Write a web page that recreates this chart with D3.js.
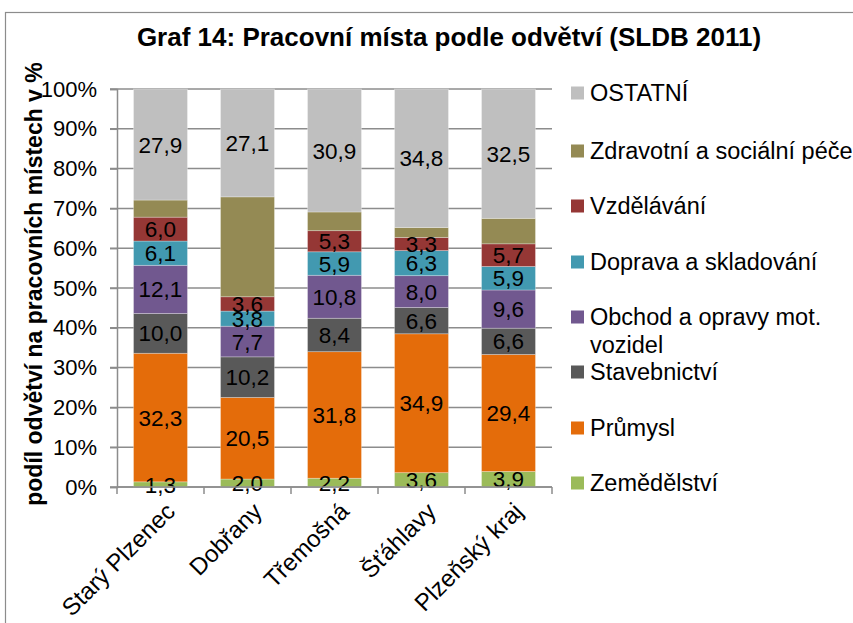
<!DOCTYPE html>
<html lang="en">
<head>
<meta charset="UTF-8">
<title>Graf 14</title>
<script src="https://d3js.org/d3.v7.min.js"></script>
<style>
  body { margin: 0; background: #fff; }
  svg { font-family: "Liberation Sans", Arial, sans-serif; }
</style>
</head>
<body>
<svg id="chart"></svg>
<script>
// Data
const categories = ["Starý Plzenec", "Dobřany", "Třemošná", "Šťáhlavy", "Plzeňský kraj"];
const seriesNames = ["Zemědělství", "Průmysl", "Stavebnictví", "Obchod a opravy mot. vozidel",
  "Doprava a skladování", "Vzdělávání", "Zdravotní a sociální péče", "OSTATNÍ"];
const zemedelstvi = [1.3, 2.0, 2.2, 3.6, 3.9];
const prumysl = [32.3, 20.5, 31.8, 34.9, 29.4];
const stavebnictvi = [10.0, 10.2, 8.4, 6.6, 6.6];
const obchod = [12.1, 7.7, 10.8, 8.0, 9.6];
const doprava = [6.1, 3.8, 5.9, 6.3, 5.9];
const vzdelavani = [6.0, 3.6, 5.3, 3.3, 5.7];
const zdravotni = [4.3, 25.1, 4.7, 2.5, 6.4];
const ostatni = [27.9, 27.1, 30.9, 34.8, 32.5];
const yTicks = [0, 10, 20, 30, 40, 50, 60, 70, 80, 90, 100];

const seriesValues = [zemedelstvi, prumysl, stavebnictvi, obchod, doprava, vzdelavani, zdravotni, ostatni];
const colors = ["#9BBB59", "#E46C0A", "#595959", "#71588F", "#4299B0", "#953735", "#948A54", "#BFBFBF"];
const showLabels = [true, true, true, true, true, true, false, true];

const width = 853, height = 623;
const margin = { left: 117, right: 301, top: 89, bottom: 136 };
const svg = d3.select("#chart").attr("width", width).attr("height", height);

// outer frame
svg.append("rect").attr("x", 5.5).attr("y", 12.5).attr("width", width).attr("height", height)
  .attr("fill", "none").attr("stroke", "#8c8c8c").attr("stroke-width", 1.2);

svg.append("text").attr("x", 449).attr("y", 46).attr("text-anchor", "middle")
  .attr("font-size", 26).attr("font-weight", "bold")
  .text("Graf 14: Pracovní místa podle odvětví (SLDB 2011)");

const x = d3.scaleBand().domain(categories).range([margin.left, width - margin.right]).paddingInner(0.38).paddingOuter(0.19);
const y = d3.scaleLinear().domain([0, 100]).range([height - margin.bottom, margin.top]);

// gridlines
svg.append("g").selectAll("line").data(yTicks).join("line")
  .attr("x1", margin.left - 7).attr("x2", width - margin.right)
  .attr("y1", d => y(d)).attr("y2", d => y(d))
  .attr("stroke", "#8c8c8c").attr("stroke-width", 1.5);

// y axis
const yAxis = svg.append("g").attr("transform", `translate(${margin.left},0)`)
  .call(d3.axisLeft(y).tickValues(yTicks).tickFormat(d => d + "%").tickSize(7).tickPadding(13));
yAxis.select(".domain").attr("stroke", "#8c8c8c").attr("stroke-width", 1.5);
yAxis.selectAll(".tick line").attr("stroke", "#8c8c8c").attr("stroke-width", 1.5);
yAxis.selectAll("text").attr("font-size", 22).attr("fill", "#000").attr("font-family", "Liberation Sans, Arial");

// stacked data
const table = categories.map((c, i) => {
  const row = { cat: c };
  seriesNames.forEach((s, j) => row[s] = seriesValues[j][i]);
  return row;
});
const stack = d3.stack().keys(seriesNames)(table);

const layers = svg.append("g").selectAll("g").data(stack).join("g")
  .attr("fill", (d, i) => colors[i]);
layers.selectAll("rect").data(d => d).join("rect")
  .attr("x", d => x(d.data.cat))
  .attr("width", x.bandwidth())
  .attr("y", d => y(d[1]))
  .attr("height", d => y(d[0]) - y(d[1]))
  .attr("stroke", "rgba(255,255,255,0.35)").attr("stroke-width", 0.8);

// data labels
stack.forEach((layer, i) => {
  if (!showLabels[i]) return;
  svg.append("g").selectAll("text").data(layer).join("text")
    .attr("x", d => x(d.data.cat) + x.bandwidth() / 2)
    .attr("y", d => (y(d[0]) + y(d[1])) / 2)
    .attr("dy", "0.36em")
    .attr("text-anchor", "middle").attr("font-size", 22.5).attr("fill", "#000")
    .text(d => d3.format(".1f")(d[1] - d[0]).replace(".", ","));
});

// x axis
const xAxis = svg.append("g").attr("transform", `translate(0,${y(0)})`);
xAxis.append("line").attr("x1", margin.left).attr("x2", width - margin.right)
  .attr("stroke", "#8c8c8c").attr("stroke-width", 1.5);
const step = (width - margin.right - margin.left) / categories.length;
xAxis.selectAll(".tk").data(d3.range(categories.length + 1)).join("line")
  .attr("x1", i => margin.left + i * step).attr("x2", i => margin.left + i * step)
  .attr("y1", 0).attr("y2", 7).attr("stroke", "#8c8c8c").attr("stroke-width", 1.5);
xAxis.selectAll("text").data(categories).join("text")
  .attr("transform", d => `translate(${x(d) + x.bandwidth() / 2 + 4},14) rotate(-45)`)
  .attr("text-anchor", "end").attr("dy", "0.7em").attr("font-size", 24).text(d => d);

// y axis title
svg.append("text").attr("transform", `translate(42,${(margin.top + y(0)) / 2 - 4}) rotate(-90)`)
  .attr("text-anchor", "middle").attr("font-size", 23).attr("font-weight", "bold")
  .text("podíl odvětví na pracovních místech v %");

// legend
const legendY = [93, 151, 206, 262, 317, 372, 428, 483];
const legendOrder = d3.range(seriesNames.length).reverse();
const legend = svg.append("g");
legendOrder.forEach((si, k) => {
  const ly = legendY[k];
  legend.append("rect").attr("x", 571).attr("y", ly - 6.5).attr("width", 13).attr("height", 13).attr("fill", colors[si]);
  const t = legend.append("text").attr("x", 590).attr("y", ly).attr("dy", "0.36em").attr("font-size", 23.5);
  if (si === 3) {
    t.append("tspan").attr("x", 590).text("Obchod a opravy mot.");
    t.append("tspan").attr("x", 590).attr("dy", 28).text("vozidel");
  } else {
    t.text(seriesNames[si]);
  }
});
</script>
</body>
</html>
